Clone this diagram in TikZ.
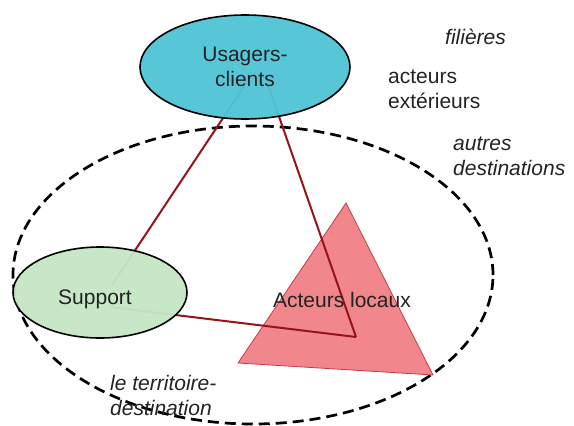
\documentclass[tikz,border=0pt]{standalone}
\usepackage{fontspec}
\setmainfont{Liberation Sans}
\usetikzlibrary{shapes.geometric}
\definecolor{cyanfill}{RGB}{80,196,212}
\definecolor{greenfill}{RGB}{198,230,196}
\definecolor{trifill}{RGB}{241,134,140}
\definecolor{triedge}{RGB}{196,60,70}
\definecolor{linkred}{RGB}{150,20,25}
\definecolor{txt}{RGB}{35,35,35}
\tikzset{
  blob/.style={ellipse, draw=black, line width=1.6pt, inner sep=0pt, text=txt,
    font=\fontsize{21}{25}\selectfont, align=center, fill opacity=0.96, text opacity=1},
  link/.style={draw=linkred, line width=2pt},
  lab/.style={text=txt, font=\fontsize{21}{25}\selectfont, inner sep=0pt, align=left},
  ilab/.style={lab, font=\fontsize{21}{25}\selectfont\itshape},
  territory/.style={ellipse, draw=black, dash pattern=on 11pt off 6pt, line width=2.7pt, inner sep=0pt},
}
\begin{document}
\begin{tikzpicture}[x=1pt,y=-1pt]
\useasboundingbox (0,0) rectangle (574,426);
% dashed territory
\node[territory, minimum width=480pt, minimum height=298pt] (terr) at (253,275) {};
% triangle (acteurs locaux)
\coordinate (ta) at (346,203);
\coordinate (tb) at (238,363);
\coordinate (tc) at (433,375);
\filldraw[fill=trifill, draw=triedge, line width=0.8pt] (ta) -- (tb) -- (tc) -- cycle;
% link end points
\coordinate (ul) at (245,85);
\coordinate (ur) at (268,85);
\coordinate (sa) at (112,285);
\coordinate (sb) at (110,307);
\coordinate (av) at (356,337);
\draw[link] (ul) -- (sa);
\draw[link] (ur) -- (av);
\draw[link, line join=miter] (sb) -- (av);
% ellipses
\node[blob, fill=cyanfill, minimum width=210pt, minimum height=104pt] (usa) at (245,67) {Usagers-\\clients};
\node[blob, fill=greenfill, minimum width=174pt, minimum height=91pt] (sup) at (100,292.5) {};
\node[lab] (suptxt) at (95,299) {Support};
\node[lab] (act) at (342,300) {Acteurs locaux};
% outer labels
\node[ilab, anchor=west] (fil) at (445,37) {filières};
\node[lab, anchor=west] (ext) at (388,89.5) {acteurs\\extérieurs};
\node[ilab, anchor=west] (aut) at (453,156.5) {autres\\destinations};
\node[ilab, anchor=west] (ter) at (110,395) {le territoire-\\destination};
\end{tikzpicture}
\end{document}
